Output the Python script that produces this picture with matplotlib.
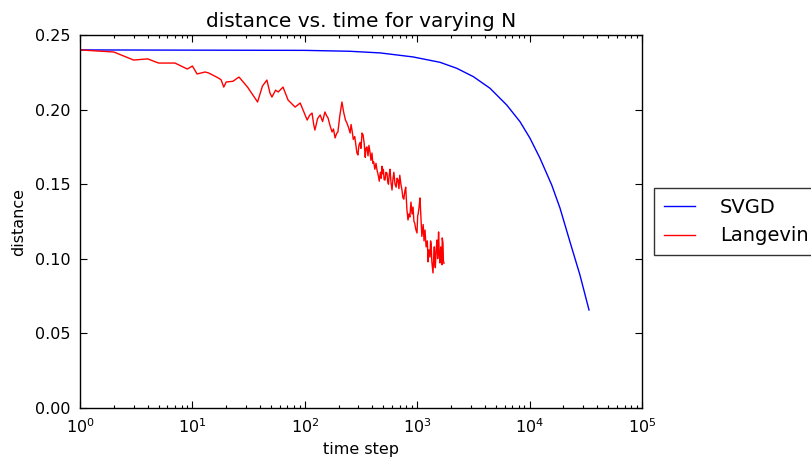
import matplotlib
matplotlib.use('Agg')
import matplotlib.pyplot as plt
import numpy as np
from matplotlib.ticker import LogLocator, FormatStrFormatter

# values
svgd_t = [1, 100, 250, 467, 918, 1595, 2246, 3157, 4443, 6256, 8214, 10084,
          12375, 15725, 18640, 22880, 28060, 33770]
svgd_dist = [0.2400, 0.2397, 0.2391, 0.2380, 0.2353, 0.2317, 0.2277, 0.2221,
             0.2143, 0.2031, 0.1919, 0.1808, 0.1674, 0.1495, 0.1340, 0.1113,
             0.0891, 0.0657]

lang_t = [1, 2, 3, 4, 5, 7, 9, 10, 11, 13, 14, 17, 18, 19, 20, 23, 25, 26,
          31, 38, 42, 46, 49, 51, 55, 58, 64, 71, 82, 91,
          105, 110, 116, 120, 123, 130, 137, 144, 151, 156, 161, 168, 175, 180,
          186, 192, 197, 205, 214, 222, 230, 237, 245, 253, 258, 263, 270, 278,
          285, 291, 297, 303, 310, 316, 323, 330, 338, 345, 350, 357, 365, 372,
          380, 388, 396, 403, 410, 420, 430, 439, 450, 460, 470, 478, 486, 493,
          500, 508, 517, 527, 538, 546, 555, 563, 573, 585, 597, 608, 620, 635,
          650, 662, 675, 688, 700, 716, 732, 746, 760, 775, 790, 810, 828, 845,
          860, 880, 900, 918, 935, 950, 970, 996, 1010, 1020, 1040, 1059, 1080,
          1100, 1130, 1150, 1173, 1200, 1230, 1250, 1270, 1300, 1315, 1330, 1350,
          1382, 1400, 1420, 1440, 1450, 1470, 1500, 1520, 1550, 1570, 1595, 1620,
          1640, 1660, 1670, 1696, 1710, 1730]
lang_dist = [0.2400, 0.2386, 0.2332, 0.2340, 0.2312, 0.2312, 0.2272, 0.2292,
             0.2239, 0.2252, 0.2245, 0.2212, 0.2200, 0.2151, 0.2185, 0.2190,
             0.2210, 0.2218, 0.2150, 0.2051, 0.2158, 0.2198, 0.2111, 0.2084,
             0.2130, 0.2118, 0.2151, 0.2064, 0.2017, 0.2044,
             0.1930, 0.1960, 0.1977, 0.1900, 0.1863, 0.1940, 0.1964, 0.1920,
             0.1984, 0.1960, 0.1944, 0.1890, 0.1850, 0.1870, 0.1810, 0.1840,
             0.1850, 0.1960, 0.2051, 0.1980, 0.1930, 0.1910, 0.1880, 0.1843,
             0.1900, 0.1863, 0.1800, 0.1820, 0.1760, 0.1709, 0.1696, 0.1760,
             0.1780, 0.1740, 0.1843, 0.1830, 0.1770, 0.1680, 0.1740, 0.1750,
             0.1690, 0.1760, 0.1716, 0.1660, 0.1709, 0.1640, 0.1650, 0.1600,
             0.1640, 0.1595, 0.1560, 0.1520, 0.1580, 0.1540, 0.1620, 0.1570,
             0.1600, 0.1530, 0.1528, 0.1580, 0.1575, 0.1520, 0.1500, 0.1560,
             0.1600, 0.1510, 0.1461, 0.1530, 0.1580, 0.1500, 0.1480, 0.1540,
             0.1528, 0.1470, 0.1560, 0.1500, 0.1461, 0.1410, 0.1400, 0.1450,
             0.1480, 0.1330, 0.1260, 0.1300, 0.1280, 0.1380, 0.1300, 0.1347,
             0.1250, 0.1240, 0.1200, 0.1173, 0.1290, 0.1300, 0.1350, 0.1408,
             0.1280, 0.1150, 0.1230, 0.1120, 0.1193, 0.1080, 0.1120, 0.0980,
             0.1060, 0.1012, 0.1120, 0.1100, 0.0980, 0.0905, 0.1000, 0.1080,
             0.0960, 0.0940, 0.1050, 0.1126, 0.1000, 0.1180, 0.1040, 0.0972,
             0.1080, 0.1020, 0.0960, 0.1140, 0.1106, 0.0990, 0.0970]

plt.rcParams['font.family'] = 'DejaVu Sans'
plt.rcParams['mathtext.default'] = 'regular'

fig = plt.figure(figsize=(8.11, 4.66), dpi=100, facecolor='white')
ax = fig.add_axes([80 / 811, 58 / 466, 562 / 811, 373 / 466])

ax.plot(svgd_t, svgd_dist, color='b', linewidth=1.0, label='SVGD')
ax.plot(lang_t, lang_dist, color='r', linewidth=1.0, label='Langevin')

ax.set_xscale('log')
ax.set_xlim(1, 1e5)
ax.set_ylim(0, 0.25)
ax.set_yticks(np.arange(0, 0.2501, 0.05))
ax.yaxis.set_major_formatter(FormatStrFormatter('%.2f'))
ax.xaxis.set_major_locator(LogLocator(base=10, numticks=10))
ax.xaxis.set_minor_locator(LogLocator(base=10, subs=np.arange(2, 10), numticks=20))

ax.tick_params(which='both', direction='in', top=True, right=True,
               labelsize=11.5, width=0.8)
ax.tick_params(which='major', length=5, pad=7)
ax.tick_params(which='minor', length=2.5)
for s in ax.spines.values():
    s.set_linewidth(1.0)
    s.set_color('black')

ax.set_title('distance vs. time for varying N', fontsize=14.5, pad=6)
ax.set_xlabel('time step', fontsize=11.5, labelpad=4)
ax.set_ylabel('distance', fontsize=11.5, labelpad=6)

leg = ax.legend(loc='center left', bbox_to_anchor=(1.021, 0.5), fontsize=14,
                fancybox=False, handlelength=1.6, handletextpad=1.3,
                borderpad=0.5, labelspacing=0.5, borderaxespad=0)
leg.get_frame().set_edgecolor('black')
leg.get_frame().set_linewidth(1.0)

fig.savefig('out.png', dpi=100, facecolor='white')
